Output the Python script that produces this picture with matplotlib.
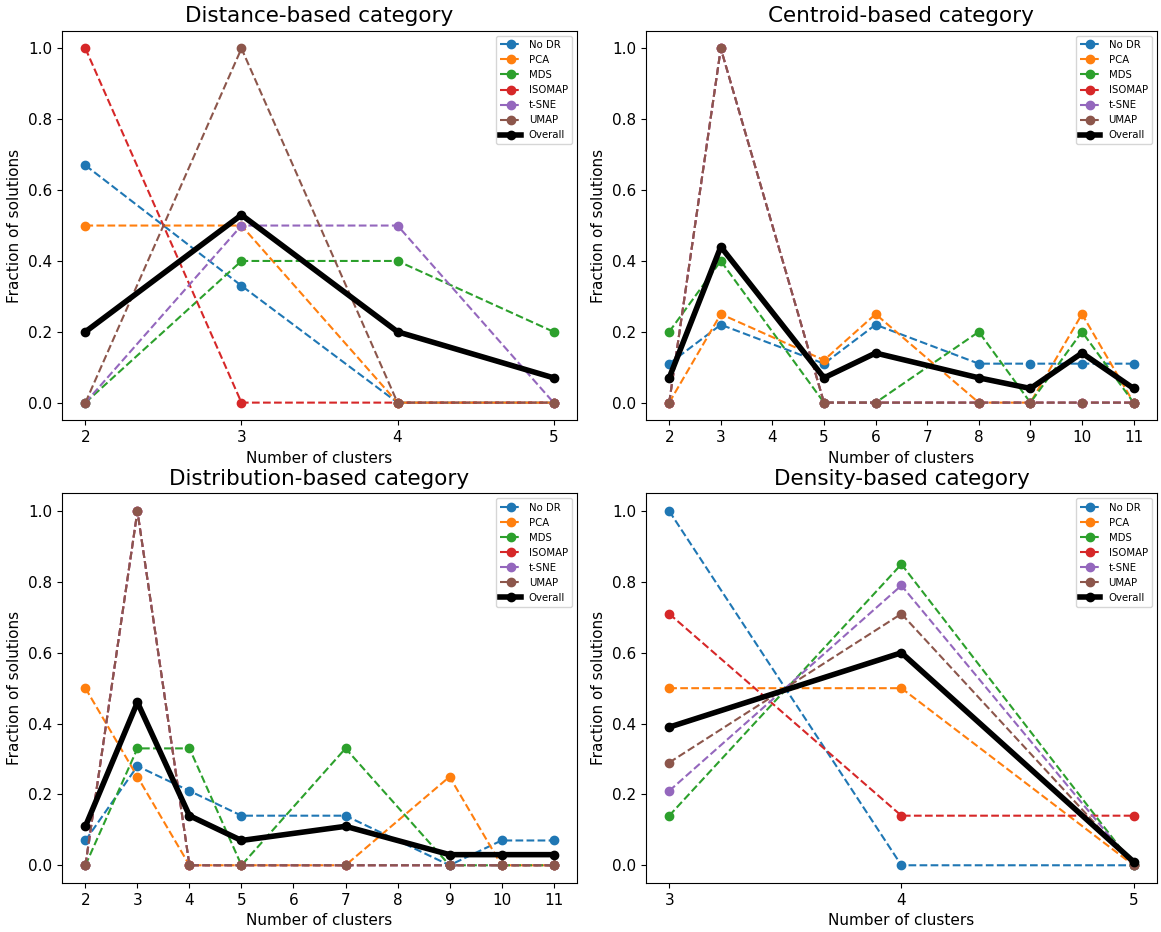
import matplotlib
matplotlib.use("Agg")
from matplotlib import pyplot as plt

methods = ["No DR", "PCA", "MDS", "ISOMAP", "t-SNE", "UMAP"]
colors = ["#1f77b4", "#ff7f0e", "#2ca02c", "#d62728", "#9467bd", "#8c564b"]

# Distance-based category
dist_x = [2, 3, 4, 5]
dist_vals = [
    [0.67, 0.33, 0.0, 0.0],   # No DR
    [0.5, 0.5, 0.0, 0.0],     # PCA
    [0.0, 0.4, 0.4, 0.2],     # MDS
    [1.0, 0.0, 0.0, 0.0],     # ISOMAP
    [0.0, 0.5, 0.5, 0.0],     # t-SNE
    [0.0, 1.0, 0.0, 0.0],     # UMAP
]
dist_overall = [0.2, 0.53, 0.2, 0.07]

# Centroid-based category
cent_x = [2, 3, 5, 6, 8, 9, 10, 11]
cent_vals = [
    [0.11, 0.22, 0.11, 0.22, 0.11, 0.11, 0.11, 0.11],
    [0.0, 0.25, 0.12, 0.25, 0.0, 0.0, 0.25, 0.0],
    [0.2, 0.4, 0.0, 0.0, 0.2, 0.0, 0.2, 0.0],
    [0.0, 1.0, 0.0, 0.0, 0.0, 0.0, 0.0, 0.0],
    [0.0, 1.0, 0.0, 0.0, 0.0, 0.0, 0.0, 0.0],
    [0.0, 1.0, 0.0, 0.0, 0.0, 0.0, 0.0, 0.0],
]
cent_overall = [0.07, 0.44, 0.07, 0.14, 0.07, 0.04, 0.14, 0.04]

# Distribution-based category
distr_x = [2, 3, 4, 5, 7, 9, 10, 11]
distr_vals = [
    [0.07, 0.28, 0.21, 0.14, 0.14, 0.0, 0.07, 0.07],
    [0.5, 0.25, 0.0, 0.0, 0.0, 0.25, 0.0, 0.0],
    [0.0, 0.33, 0.33, 0.0, 0.33, 0.0, 0.0, 0.0],
    [0.0, 1.0, 0.0, 0.0, 0.0, 0.0, 0.0, 0.0],
    [0.0, 1.0, 0.0, 0.0, 0.0, 0.0, 0.0, 0.0],
    [0.0, 1.0, 0.0, 0.0, 0.0, 0.0, 0.0, 0.0],
]
distr_overall = [0.11, 0.46, 0.14, 0.07, 0.11, 0.03, 0.03, 0.03]

# Density-based category
dens_x = [3, 4, 5]
dens_vals = [
    [1.0, 0.0, 0.0],
    [0.5, 0.5, 0.0],
    [0.14, 0.85, 0.0],
    [0.71, 0.14, 0.14],
    [0.21, 0.79, 0.0],
    [0.29, 0.71, 0.0],
]
dens_overall = [0.39, 0.6, 0.01]

panels = [
    ("Distance-based category", dist_x, dist_vals, dist_overall, [2, 3, 4, 5]),
    ("Centroid-based category", cent_x, cent_vals, cent_overall, list(range(2, 12))),
    ("Distribution-based category", distr_x, distr_vals, distr_overall, list(range(2, 12))),
    ("Density-based category", dens_x, dens_vals, dens_overall, [3, 4, 5]),
]

# axes rectangles (left, bottom, width, height) in figure fraction
rects = [
    (0.0534, 0.549, 0.4436, 0.418),
    (0.5564, 0.549, 0.4400, 0.418),
    (0.0534, 0.0526, 0.4436, 0.418),
    (0.5564, 0.0526, 0.4400, 0.418),
]

fig = plt.figure(figsize=(11.61, 9.32), dpi=100)

for (title, xs, vals, overall, ticks), rect in zip(panels, rects):
    ax = fig.add_axes(rect)
    for name, c, v in zip(methods, colors, vals):
        ax.plot(xs, v, "o--", color=c, label=name, linewidth=1.5, markersize=6)
    ax.plot(xs, overall, "o-", color="black", label="Overall", linewidth=4, markersize=6)
    ax.set_title(title, fontsize=15.5)
    ax.set_xlabel("Number of clusters", fontsize=11)
    ax.set_ylabel("Fraction of solutions", fontsize=11)
    ax.set_xticks(ticks)
    ax.tick_params(labelsize=11)
    ax.legend(loc="upper right", fontsize=7.3)

plt.savefig("out.png", dpi=100)
